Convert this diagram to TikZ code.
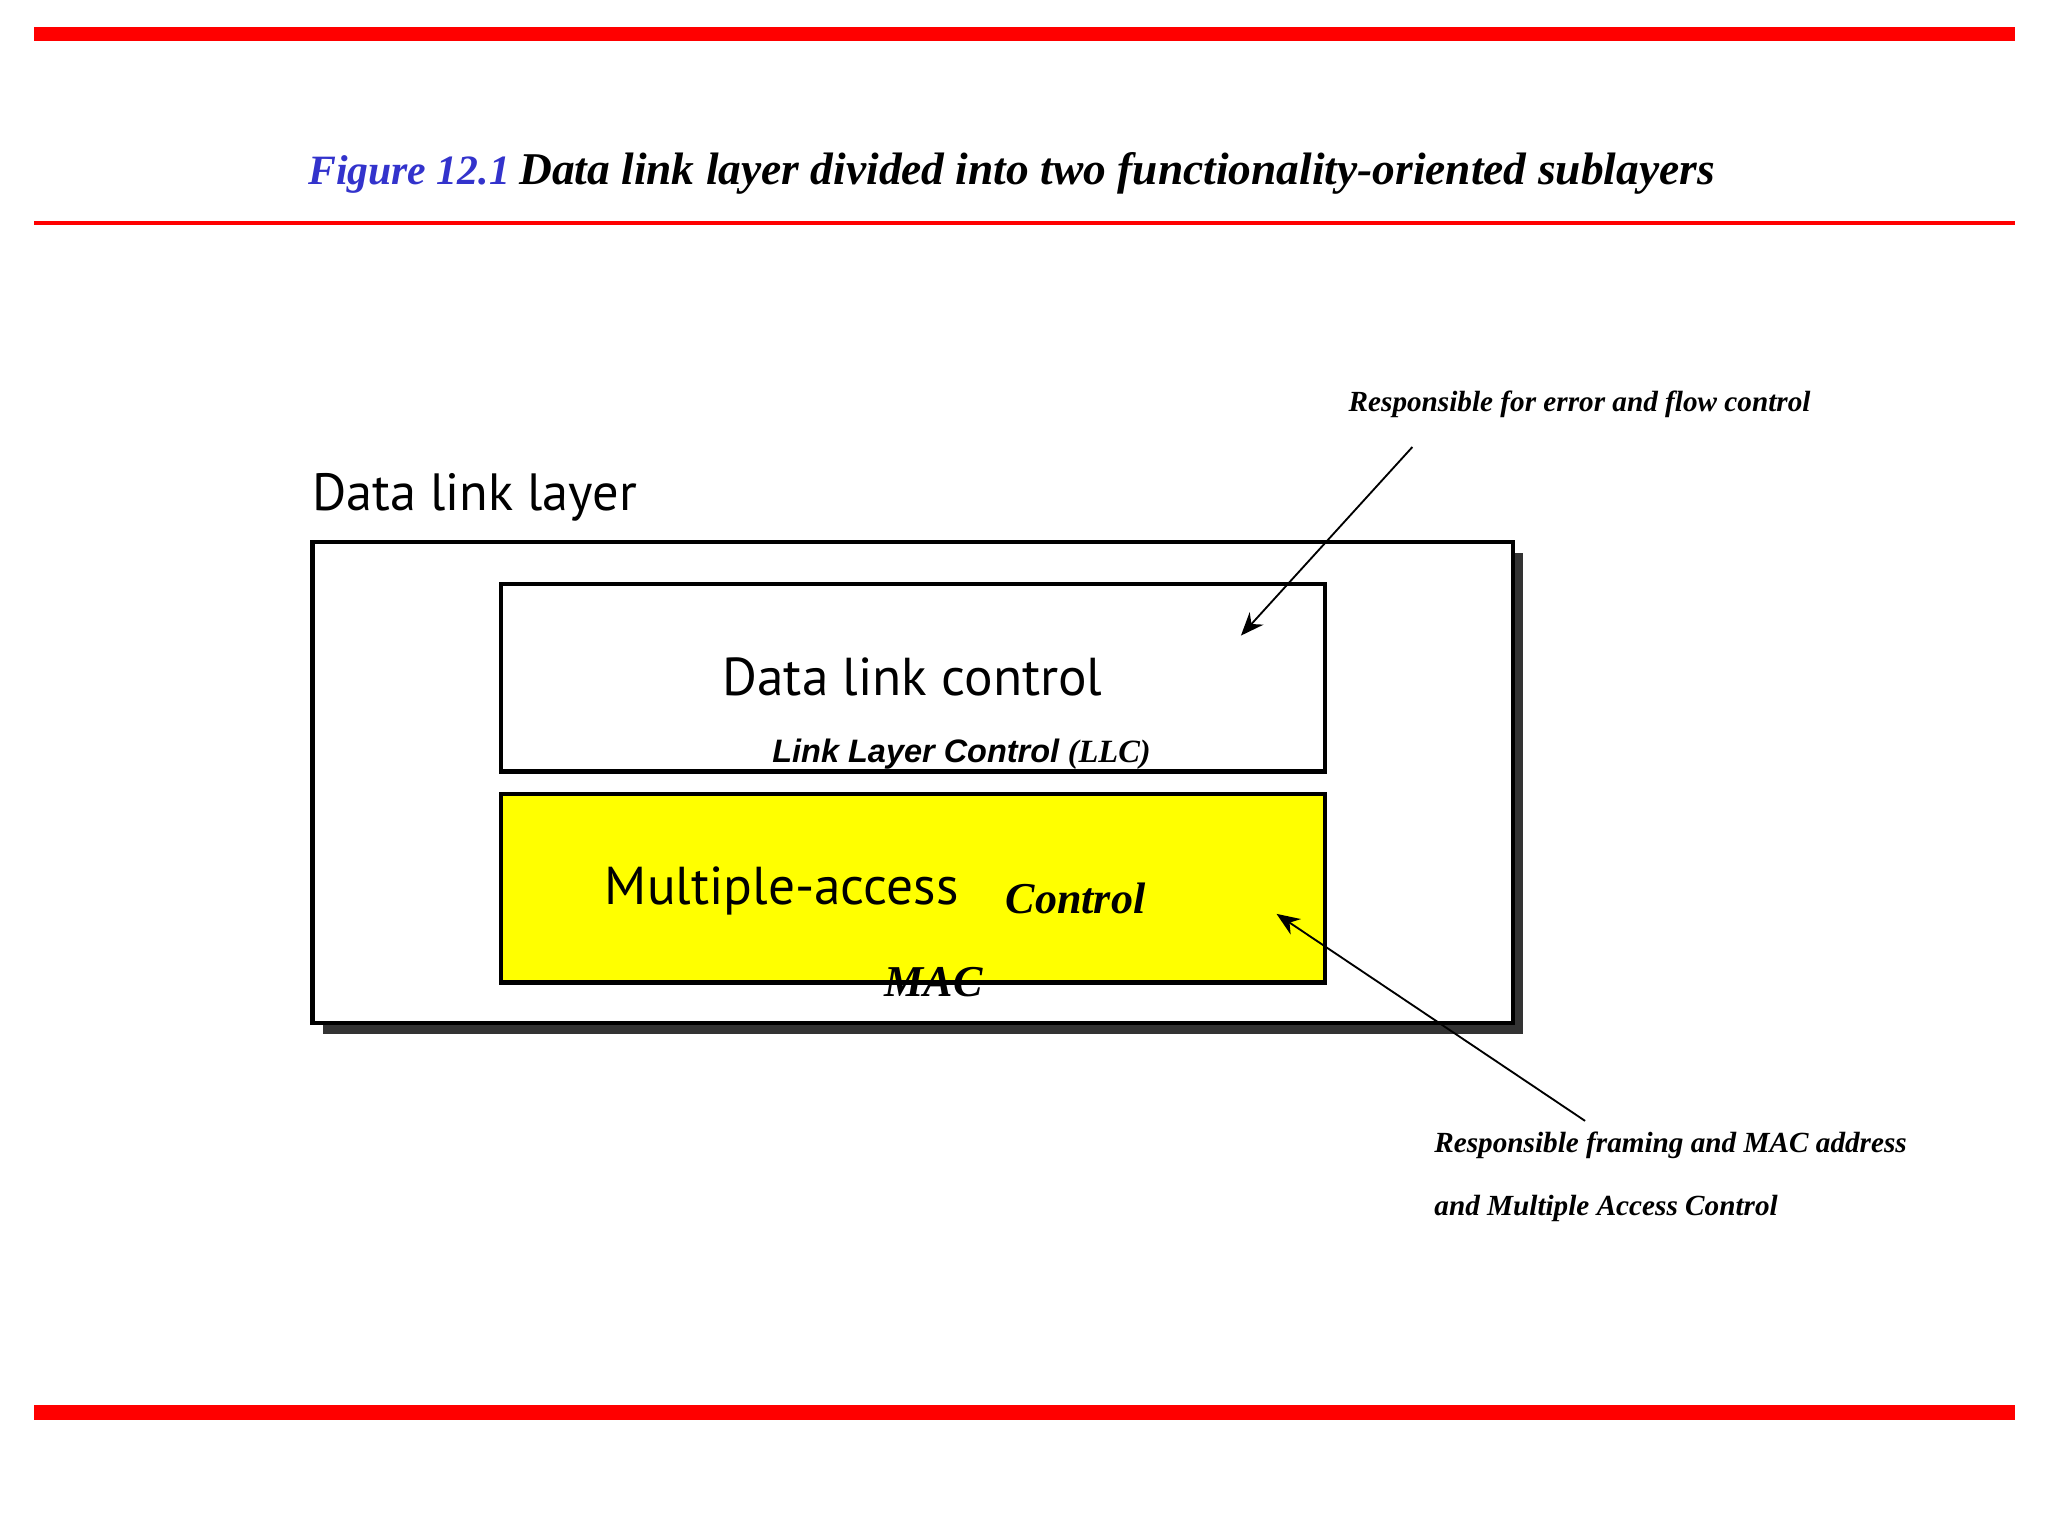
\documentclass[tikz,border=0pt]{standalone}
\usepackage{fontspec}
\setmainfont{Liberation Serif}
\newfontfamily\arialf{Liberation Sans}
\newfontfamily\myriad{PT Sans}
\usetikzlibrary{arrows.meta}
\definecolor{titleblue}{RGB}{51,51,204}
\definecolor{yel}{RGB}{255,255,0}
\begin{document}
\begin{tikzpicture}[x=0.01cm,y=-0.01cm,
  redbar/.style={draw=red,line width=3.1pt},
  box/.style={draw=black,line width=0.9pt},
  note/.style={font=\fontsize{6.3}{7}\selectfont\bfseries\itshape,anchor=base west,inner sep=0},
  arr/.style={-{Stealth[length=5pt,width=4pt]},line width=0.4pt}]
\useasboundingbox (0,0) rectangle (1553,1165);
\draw[redbar] (26,26) -- (1528,26);
\draw[draw=red,line width=0.9pt] (26,169) -- (1528,169);
\draw[redbar] (26,1071) -- (1528,1071);
\node[anchor=base west,inner sep=0,font=\fontsize{9}{10}\selectfont\bfseries\itshape,text=titleblue] (fig) at (233,140) {Figure 12.1};
\node[anchor=base west,inner sep=0,font=\fontsize{9.8}{10}\selectfont\bfseries\itshape] (title) at (393,140) {Data link layer divided into two functionality-oriented sublayers};
% outer box with shadow
\fill[black!80] (245,419) rectangle (1155,784);
\draw[box,fill=white] (237,411) rectangle (1147,776);
\node[anchor=base west,inner sep=0,font=\fontsize{11.3}{12}\myriad] (dll) at (236,387) {Data link layer};
\draw[box] (380,443) rectangle (1005,585);
\node[font=\fontsize{11.5}{12}\myriad,inner sep=0] (dlct) at (692,513) {Data link control};
\node[anchor=base west,inner sep=0,font=\fontsize{7}{8}\selectfont] (llc) at (585,578) {{\arialf\bfseries\itshape Link Layer Control} \textbf{\textit{(LLC)}}};
\draw[box,fill=yel] (380,602) rectangle (1005,745);
\node[anchor=base west,inner sep=0,font=\fontsize{11.5}{12}\myriad] (ma) at (458,686) {Multiple-access};
\node[anchor=base west,inner sep=0,font=\fontsize{9.5}{10}\selectfont\bfseries\itshape] (ctl) at (762,693) {Control};
\node[anchor=base west,inner sep=0,font=\fontsize{9.5}{10}\selectfont\bfseries\itshape] (mac) at (670,756) {MAC};
\node[note] (n1) at (1022,312) {Responsible for error and flow control};
\coordinate (a1s) at (1071,339);
\coordinate (a1e) at (941,482);
\draw[arr] (a1s) -- (a1e);
\node[note] (n2) at (1087,874) {Responsible framing and MAC address};
\node[note] (n3) at (1087,922) {and Multiple Access Control};
\coordinate (a2s) at (1202,850);
\coordinate (a2e) at (968,693);
\draw[arr] (a2s) -- (a2e);
\end{tikzpicture}
\end{document}
